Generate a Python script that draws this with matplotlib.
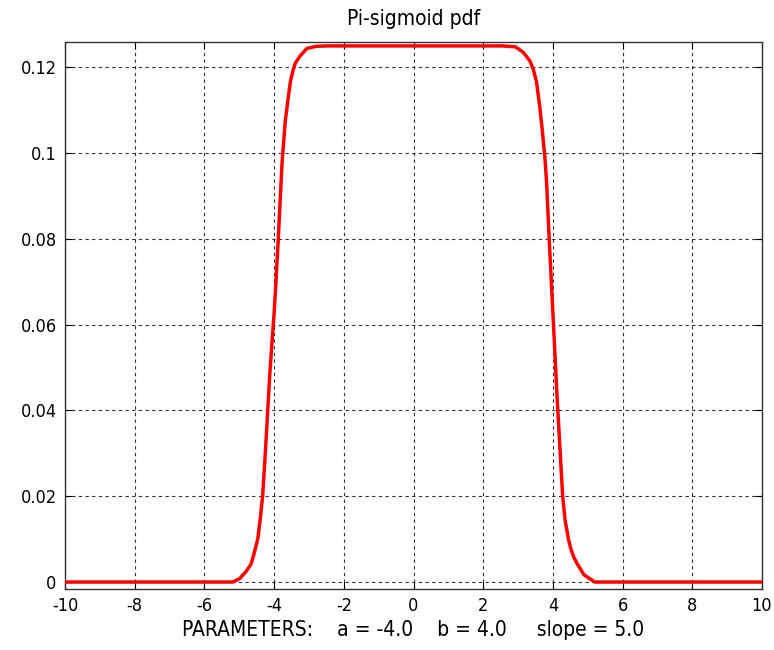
#!/usr/bin/env python3
"""
Pi-sigmoid pdf chart (MATLAB-style look)
"""

import matplotlib
matplotlib.use("Agg")
import matplotlib.pyplot as plt
from matplotlib.ticker import FormatStrFormatter

# Curve points
x_vals = [-10.0, -5.18, -4.99, -4.80, -4.66, -4.57, -4.47, -4.40, -4.33, -4.26,
          -4.19, -4.12, -4.06, -4.00, -3.94, -3.88, -3.82, -3.77, -3.68, -3.60,
          -3.53, -3.45, -3.39, -3.25, -3.06, -2.80, -2.50,
          2.54, 2.92, 3.15, 3.34, 3.44, 3.53, 3.62, 3.70, 3.77, 3.82, 3.87,
          3.93, 4.00, 4.06, 4.12, 4.19, 4.28, 4.35, 4.45, 4.52, 4.60, 4.70,
          4.89, 5.20, 10.0]
y_vals = [0.0, 0.0, 0.0008, 0.0025, 0.0042, 0.0068, 0.0100, 0.0145, 0.0200, 0.0290,
          0.0390, 0.0490, 0.0560, 0.0627, 0.0710, 0.0800, 0.0900, 0.0980, 0.1075, 0.1126,
          0.1168, 0.1195, 0.1210, 0.1227, 0.1244, 0.1249, 0.1250,
          0.1250, 0.1248, 0.1235, 0.1215, 0.1195, 0.1166, 0.1110, 0.1050, 0.0990, 0.0930, 0.0840,
          0.0740, 0.0627, 0.0530, 0.0430, 0.0330, 0.0200, 0.0145, 0.0098, 0.0076, 0.0058, 0.0042,
          0.0017, 0.0, 0.0]

x_ticks = [-10, -8, -6, -4, -2, 0, 2, 4, 6, 8, 10]
y_ticks = [0, 0.02, 0.04, 0.06, 0.08, 0.1, 0.12]

title_text = "Pi-sigmoid pdf"
param_text = "PARAMETERS:    a = -4.0    b = 4.0     slope = 5.0"

plt.rcParams['font.family'] = ['DejaVu Sans']
plt.rcParams['font.stretch'] = 'condensed'
plt.rcParams['axes.unicode_minus'] = False


def main():
    fig = plt.figure(figsize=(7.74, 6.5), dpi=100)
    ax = fig.add_axes([0.084, 0.0938, 0.9005, 0.8415])

    ax.plot(x_vals, y_vals, color='red', linewidth=2.5, zorder=3)

    ax.set_xlim(-10, 10)
    ax.set_ylim(-0.00163, 0.1259)
    ax.set_xticks(x_ticks)
    ax.set_yticks(y_ticks)
    ax.yaxis.set_major_formatter(FormatStrFormatter('%g'))

    ax.grid(True, color='black', linestyle=(0, (3, 3)), linewidth=0.8, alpha=0.8)
    ax.tick_params(direction='in', top=True, right=True, length=5,
                   labelsize=13, color='black', pad=6)
    for spine in ax.spines.values():
        spine.set_color('#333333')
        spine.set_linewidth(1.0)

    ax.set_title(title_text, fontsize=15, pad=12)
    ax.set_xlabel(param_text, fontsize=15, labelpad=3)

    fig.savefig("out.png", dpi=100)
    plt.close(fig)


if __name__ == "__main__":
    main()
